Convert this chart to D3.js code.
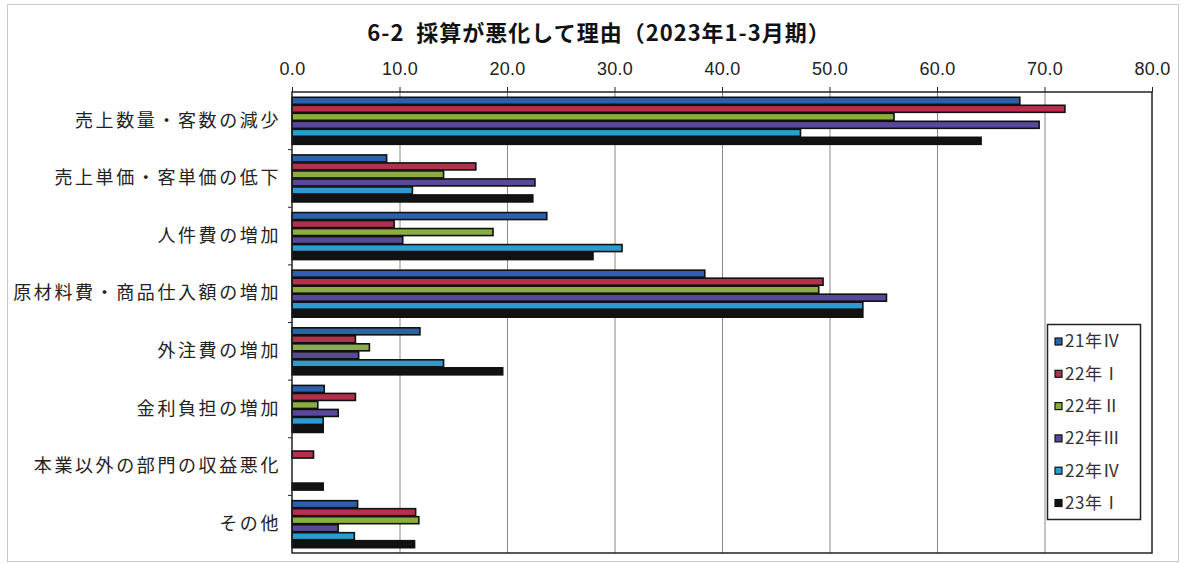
<!DOCTYPE html>
<html><head><meta charset="utf-8">
<script src="https://cdn.jsdelivr.net/npm/d3@7"></script>
<style>
html,body{margin:0;padding:0;background:#fff;}
svg{display:block;}
</style></head>
<body>
<script>
const categories = ["売上数量・客数の減少","売上単価・客単価の低下","人件費の増加","原材料費・商品仕入額の増加","外注費の増加","金利負担の増加","本業以外の部門の収益悪化","その他"];
const seriesNames = ["21年Ⅳ","22年Ⅰ","22年Ⅱ","22年Ⅲ","22年Ⅳ","23年Ⅰ"];
const s21Q4 = [67.7, 8.8, 23.7, 38.4, 11.9, 3.0, 0, 6.1];
const s22Q1 = [71.9, 17.1, 9.5, 49.4, 5.9, 5.9, 2.0, 11.5];
const s22Q2 = [56.0, 14.1, 18.7, 49.0, 7.2, 2.4, 0, 11.8];
const s22Q3 = [69.5, 22.6, 10.3, 55.3, 6.2, 4.3, 0, 4.3];
const s22Q4 = [47.3, 11.2, 30.7, 53.1, 14.1, 2.9, 0, 5.8];
const s23Q1 = [64.1, 22.4, 28.0, 53.1, 19.6, 2.9, 2.9, 11.4];
const seriesValues = [s21Q4, s22Q1, s22Q2, s22Q3, s22Q4, s23Q1];
const xTicks = [0,10,20,30,40,50,60,70,80];
const colors = ["#2a62ad","#b3314a","#8aae40","#5a489c","#2b9bd2","#121212"];
const chartTitle = "6-2  採算が悪化して理由（2023年1-3月期）";

const W = 1184, H = 564;
const pLeft = 292, pRight = 1152, pTop = 92, pBottom = 553;

const svg = d3.select("body").append("svg").attr("width", W).attr("height", H);

// outer frame
svg.append("rect").attr("x", 7.5).attr("y", 4.5).attr("width", 1171).attr("height", 557)
  .attr("fill", "none").attr("stroke", "#c8c8c8").attr("stroke-width", 1);

// title
svg.append("text").attr("x", 599).attr("y", 41).attr("text-anchor", "middle")
  .attr("font-family", "'Noto Sans CJK JP', sans-serif").attr("font-weight", "bold")
  .attr("font-size", 22).attr("letter-spacing", 1).attr("fill", "#111")
  .attr("xml:space", "preserve").style("white-space", "pre").text(chartTitle);

const x = d3.scaleLinear().domain([0, 80]).range([pLeft, pRight]);
const y = d3.scaleBand().domain(categories).range([pTop, pBottom]).padding(0);
const yi = d3.scaleBand().domain(d3.range(seriesNames.length)).range([0, y.bandwidth()])
  .paddingInner(0).paddingOuter(0.6);

// gridlines
svg.append("g").selectAll("line").data(xTicks.filter(d => d > 0 && d < 80)).join("line")
  .attr("x1", d => x(d) + 0.5).attr("x2", d => x(d) + 0.5)
  .attr("y1", pTop).attr("y2", pBottom)
  .attr("stroke", "#8a8a8a").attr("stroke-width", 1);

// top axis
const xAxis = d3.axisTop(x).tickValues(xTicks).tickFormat(d3.format(".1f")).tickSize(5).tickSizeOuter(0);
const gx = svg.append("g").attr("transform", `translate(0,${pTop})`).call(xAxis);
gx.select(".domain").remove();
gx.selectAll(".tick line").attr("stroke", "#222");
gx.selectAll(".tick text").attr("font-family", "'Liberation Sans Narrow', 'Liberation Sans', sans-serif")
  .attr("font-size", 18).attr("fill", "#222").attr("y", -17).attr("letter-spacing", 0.3);

// bars
const groups = svg.append("g").selectAll("g").data(categories).join("g")
  .attr("transform", d => `translate(0,${y(d)})`);
groups.selectAll("rect").data((c, ci) => seriesValues.map((arr, si) => ({si, v: arr[ci]})).filter(d => d.v > 0))
  .join("rect")
  .attr("x", x(0))
  .attr("y", d => yi(d.si) + 0.5)
  .attr("width", d => x(d.v) - x(0))
  .attr("height", yi.bandwidth() - 1)
  .attr("fill", d => colors[d.si])
  .attr("stroke", "#111").attr("stroke-width", 1.6);

// plot border
svg.append("rect").attr("x", pLeft).attr("y", pTop).attr("width", pRight - pLeft).attr("height", pBottom - pTop)
  .attr("fill", "none").attr("stroke", "#222").attr("stroke-width", 1.5);

// left axis
const yAxis = d3.axisLeft(y).tickSize(0).tickPadding(14);
const gy = svg.append("g").attr("transform", `translate(${pLeft},0)`).call(yAxis);
gy.select(".domain").remove();
gy.selectAll(".tick text").attr("font-family", "'Noto Sans CJK JP', sans-serif")
  .attr("font-size", 18).attr("fill", "#222").attr("letter-spacing", 2.6).attr("dx", 3);
// category boundary ticks
svg.append("g").selectAll("line").data(categories.slice(1)).join("line")
  .attr("x1", pLeft - 4).attr("x2", pLeft).attr("y1", d => y(d)).attr("y2", d => y(d))
  .attr("stroke", "#222");

// legend
const lg = svg.append("g").attr("transform", "translate(1047,324)");
lg.append("rect").attr("x", 0.5).attr("y", 0.5).attr("width", 93).attr("height", 195)
  .attr("fill", "#fff").attr("stroke", "#222").attr("stroke-width", 1.5);
const items = lg.selectAll("g.item").data(seriesNames).join("g").attr("class", "item")
  .attr("transform", (d, i) => `translate(0,${17.5 + i * 32.3})`);
items.append("rect").attr("x", 8).attr("y", -3.5).attr("width", 7).attr("height", 7)
  .attr("fill", (d, i) => colors[i]).attr("stroke", "#111").attr("stroke-width", 1.2);
items.append("text").attr("x", 18).attr("y", 0).attr("dy", "0.35em")
  .attr("font-family", "'Noto Sans CJK JP', sans-serif").attr("font-size", 17).attr("fill", "#333")
  .attr("letter-spacing", 0.6)
  .text(d => d);
</script>
</body></html>
